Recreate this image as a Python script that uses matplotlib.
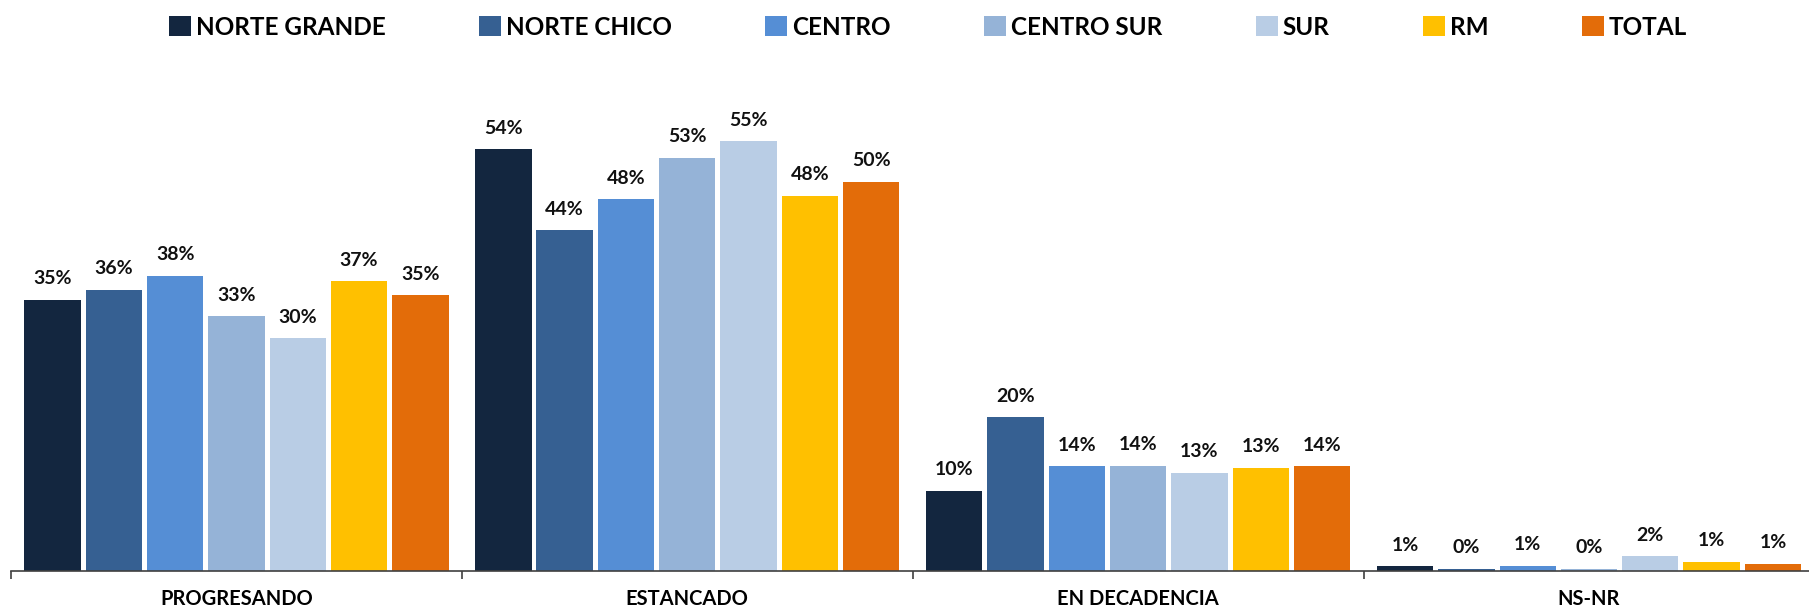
import matplotlib
matplotlib.use("Agg")
import matplotlib.pyplot as plt
import numpy as np

plt.rcParams['font.family'] = ['Lato', 'DejaVu Sans']

categories = ["PROGRESANDO", "ESTANCADO", "EN DECADENCIA", "NS-NR"]
series = ["NORTE GRANDE", "NORTE CHICO", "CENTRO", "CENTRO SUR", "SUR", "RM", "TOTAL"]
colors = ["#13263F", "#366092", "#558ED5", "#95B3D7", "#B9CDE5", "#FFC000", "#E36C09"]

norte_grande = [34.7, 54.0, 10.3, 0.6]
norte_chico = [36.0, 43.6, 19.7, 0.3]
centro = [37.8, 47.6, 13.4, 0.7]
centro_sur = [32.6, 52.9, 13.5, 0.3]
sur = [29.8, 55.0, 12.6, 1.9]
rm = [37.1, 48.0, 13.2, 1.2]
total = [35.3, 49.8, 13.4, 0.9]
values = [norte_grande, norte_chico, centro, centro_sur, sur, rm, total]

labels_ng = ["35%", "54%", "10%", "1%"]
labels_nc = ["36%", "44%", "20%", "0%"]
labels_ce = ["38%", "48%", "14%", "1%"]
labels_cs = ["33%", "53%", "14%", "0%"]
labels_su = ["30%", "55%", "13%", "2%"]
labels_rm = ["37%", "48%", "13%", "1%"]
labels_to = ["35%", "50%", "14%", "1%"]
labels = [labels_ng, labels_nc, labels_ce, labels_cs, labels_su, labels_rm, labels_to]

fig = plt.figure(figsize=(18.09, 6.08), dpi=100)
ax = fig.add_axes([11/1809, 1 - 571/608, 1 - 11/1809 + 0.003, 472/608])

x = np.arange(len(categories))
step = 0.136
width = 0.125
for i, (vals, lab, col, name) in enumerate(zip(values, labels, colors, series)):
    pos = x + (i - 3) * step
    ax.bar(pos, vals, width=width, color=col, linewidth=0, label=name)
    for xp, v, t in zip(pos, vals, lab):
        ax.annotate(t, (xp, v), xytext=(0, 9), textcoords="offset points",
                    ha="center", va="bottom", fontsize=14, fontweight="bold", color="#111111")

ax.set_xlim(-0.5, 3.5)
ax.set_ylim(0, 60.4)
for s in ["top", "right", "left"]:
    ax.spines[s].set_visible(False)
ax.spines["bottom"].set_color("#404040")
ax.spines["bottom"].set_linewidth(1.2)
ax.set_yticks([])
ax.set_xticks(x)
ax.set_xticklabels(categories, fontsize=14.5, fontweight="bold")
ax.tick_params(axis="x", which="major", length=0, pad=13)
ax.set_xticks([-0.5, 0.5, 1.5, 2.5, 3.5], minor=True)
ax.tick_params(axis="x", which="minor", length=6, direction="out", color="#404040", width=1.2)

leg = fig.legend(loc="upper center", bbox_to_anchor=(0.513, 1.01), ncol=7, frameon=False,
                 prop={"weight": "bold", "size": 17.5}, handlelength=0.9, handleheight=0.9,
                 handletextpad=0.2, columnspacing=3.85)

fig.savefig("out.png", dpi=100)
